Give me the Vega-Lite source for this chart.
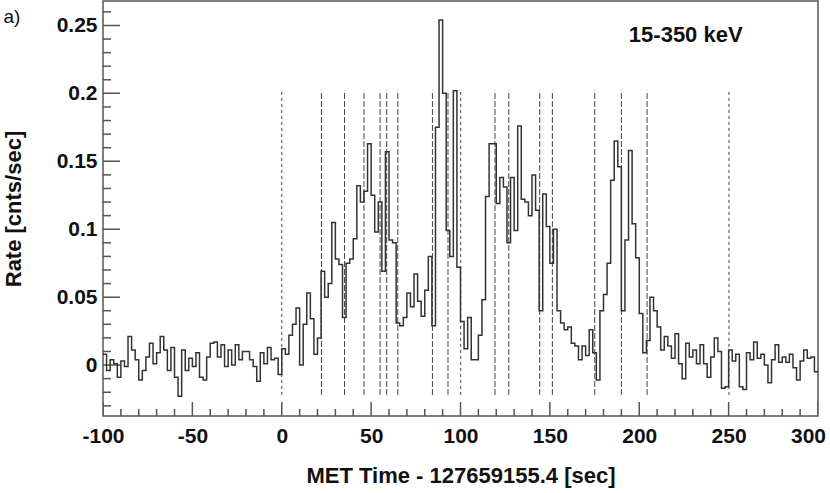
{
  "$schema": "https://vega.github.io/schema/vega-lite/v6.json",
  "width": 715,
  "height": 415,
  "autosize": {"type": "none"},
  "padding": {"left": 103, "top": 1, "right": 12, "bottom": 77},
  "background": "white",
  "config": {
    "view": {"stroke": "#555555", "strokeWidth": 1.5},
    "font": "Liberation Sans",
    "axis": {
      "domain": false,
      "grid": false,
      "ticks": false,
      "tickSize": 0,
      "labelFont": "Liberation Sans",
      "labelFontSize": 21,
      "labelFontWeight": "bold",
      "labelColor": "#111111",
      "labelOverlap": false,
      "labelFlush": false,
      "titleFont": "Liberation Sans",
      "titleFontSize": 22,
      "titleFontWeight": "bold",
      "titleColor": "#111111"
    }
  },
  "datasets": {
    "hist": [
      {"t": -100, "v": 0.008}, {"t": -98, "v": -0.004}, {"t": -96, "v": 0.004}, {"t": -94, "v": 0.001},
      {"t": -92, "v": -0.009}, {"t": -90, "v": 0.003}, {"t": -88, "v": -0.001}, {"t": -86, "v": 0.021},
      {"t": -84, "v": 0.011}, {"t": -82, "v": 0.004}, {"t": -80, "v": -0.011}, {"t": -78, "v": -0.004},
      {"t": -76, "v": 0.006}, {"t": -74, "v": 0.016}, {"t": -72, "v": 0.001}, {"t": -70, "v": 0.009},
      {"t": -68, "v": 0.021}, {"t": -66, "v": 0.011}, {"t": -64, "v": -0.004}, {"t": -62, "v": 0.013},
      {"t": -60, "v": -0.009}, {"t": -58, "v": -0.023}, {"t": -56, "v": 0.011}, {"t": -54, "v": -0.004},
      {"t": -52, "v": 0.005}, {"t": -50, "v": -0.001}, {"t": -48, "v": 0.009}, {"t": -46, "v": -0.009},
      {"t": -44, "v": -0.011}, {"t": -42, "v": 0.006}, {"t": -40, "v": 0.016}, {"t": -38, "v": 0.017},
      {"t": -36, "v": 0.006}, {"t": -34, "v": 0.015}, {"t": -32, "v": -0.001}, {"t": -30, "v": 0.011},
      {"t": -28, "v": 0.0}, {"t": -26, "v": 0.015}, {"t": -24, "v": 0.004}, {"t": -22, "v": 0.010},
      {"t": -20, "v": 0.010}, {"t": -18, "v": 0.004}, {"t": -16, "v": -0.001}, {"t": -14, "v": -0.012},
      {"t": -12, "v": 0.009}, {"t": -10, "v": 0.001}, {"t": -8, "v": 0.013}, {"t": -6, "v": 0.004},
      {"t": -4, "v": 0.005}, {"t": -2, "v": -0.007}, {"t": 0, "v": 0.012}, {"t": 2, "v": 0.008},
      {"t": 4, "v": 0.022}, {"t": 6, "v": 0.030}, {"t": 8, "v": 0.042}, {"t": 10, "v": 0.0},
      {"t": 12, "v": 0.030}, {"t": 14, "v": 0.053}, {"t": 16, "v": 0.034}, {"t": 18, "v": 0.008},
      {"t": 20, "v": 0.020}, {"t": 22, "v": 0.069}, {"t": 24, "v": 0.050}, {"t": 26, "v": 0.060},
      {"t": 28, "v": 0.105}, {"t": 30, "v": 0.078}, {"t": 32, "v": 0.074}, {"t": 34, "v": 0.035},
      {"t": 36, "v": 0.075}, {"t": 38, "v": 0.078}, {"t": 40, "v": 0.093}, {"t": 42, "v": 0.132},
      {"t": 44, "v": 0.120}, {"t": 46, "v": 0.128}, {"t": 48, "v": 0.163}, {"t": 50, "v": 0.125},
      {"t": 52, "v": 0.098}, {"t": 54, "v": 0.120}, {"t": 56, "v": 0.069}, {"t": 58, "v": 0.157},
      {"t": 60, "v": 0.092}, {"t": 62, "v": 0.090}, {"t": 64, "v": 0.031}, {"t": 66, "v": 0.029},
      {"t": 68, "v": 0.035}, {"t": 70, "v": 0.053}, {"t": 72, "v": 0.043}, {"t": 74, "v": 0.067},
      {"t": 76, "v": 0.047}, {"t": 78, "v": 0.036}, {"t": 80, "v": 0.055}, {"t": 82, "v": 0.080},
      {"t": 84, "v": 0.029}, {"t": 86, "v": 0.175}, {"t": 88, "v": 0.254}, {"t": 90, "v": 0.200},
      {"t": 92, "v": 0.099}, {"t": 94, "v": 0.080}, {"t": 96, "v": 0.202}, {"t": 98, "v": 0.072},
      {"t": 100, "v": 0.032}, {"t": 102, "v": 0.012}, {"t": 104, "v": 0.035}, {"t": 106, "v": 0.004},
      {"t": 108, "v": 0.004}, {"t": 110, "v": 0.022}, {"t": 112, "v": 0.048}, {"t": 114, "v": 0.124},
      {"t": 116, "v": 0.163}, {"t": 118, "v": 0.163}, {"t": 120, "v": 0.119}, {"t": 122, "v": 0.138},
      {"t": 124, "v": 0.131}, {"t": 126, "v": 0.090}, {"t": 128, "v": 0.138}, {"t": 130, "v": 0.099},
      {"t": 132, "v": 0.176}, {"t": 134, "v": 0.122}, {"t": 136, "v": 0.120}, {"t": 138, "v": 0.110},
      {"t": 140, "v": 0.140}, {"t": 142, "v": 0.114}, {"t": 144, "v": 0.040}, {"t": 146, "v": 0.126},
      {"t": 148, "v": 0.102}, {"t": 150, "v": 0.075}, {"t": 152, "v": 0.100}, {"t": 154, "v": 0.040},
      {"t": 156, "v": 0.031}, {"t": 158, "v": 0.026}, {"t": 160, "v": 0.028}, {"t": 162, "v": 0.016},
      {"t": 164, "v": 0.014}, {"t": 166, "v": 0.004}, {"t": 168, "v": 0.014}, {"t": 170, "v": 0.007},
      {"t": 172, "v": 0.026}, {"t": 174, "v": 0.009}, {"t": 176, "v": -0.011}, {"t": 178, "v": 0.040},
      {"t": 180, "v": 0.052}, {"t": 182, "v": 0.075}, {"t": 184, "v": 0.136}, {"t": 186, "v": 0.165},
      {"t": 188, "v": 0.146}, {"t": 190, "v": 0.040}, {"t": 192, "v": 0.092}, {"t": 194, "v": 0.158},
      {"t": 196, "v": 0.104}, {"t": 198, "v": 0.079}, {"t": 200, "v": 0.038}, {"t": 202, "v": 0.009},
      {"t": 204, "v": 0.018}, {"t": 206, "v": 0.050}, {"t": 208, "v": 0.040}, {"t": 210, "v": 0.028},
      {"t": 212, "v": 0.011}, {"t": 214, "v": 0.021}, {"t": 216, "v": 0.014}, {"t": 218, "v": 0.005},
      {"t": 220, "v": 0.023}, {"t": 222, "v": 0.001}, {"t": 224, "v": -0.010}, {"t": 226, "v": 0.016},
      {"t": 228, "v": 0.006}, {"t": 230, "v": 0.011}, {"t": 232, "v": 0.001}, {"t": 234, "v": 0.015},
      {"t": 236, "v": 0.001}, {"t": 238, "v": -0.009}, {"t": 240, "v": 0.006}, {"t": 242, "v": 0.020},
      {"t": 244, "v": 0.010}, {"t": 246, "v": -0.017}, {"t": 248, "v": -0.016}, {"t": 250, "v": 0.011},
      {"t": 252, "v": 0.003}, {"t": 254, "v": 0.008}, {"t": 256, "v": -0.016}, {"t": 258, "v": -0.018},
      {"t": 260, "v": 0.009}, {"t": 262, "v": 0.004}, {"t": 264, "v": 0.017}, {"t": 266, "v": 0.005},
      {"t": 268, "v": 0.008}, {"t": 270, "v": 0.0}, {"t": 272, "v": -0.013}, {"t": 274, "v": 0.004},
      {"t": 276, "v": 0.015}, {"t": 278, "v": 0.002}, {"t": 280, "v": 0.006}, {"t": 282, "v": 0.002},
      {"t": 284, "v": 0.008}, {"t": 286, "v": -0.002}, {"t": 288, "v": -0.011}, {"t": 290, "v": 0.003},
      {"t": 292, "v": 0.011}, {"t": 294, "v": 0.005}, {"t": 296, "v": 0.006}, {"t": 298, "v": -0.005},
      {"t": 300, "v": -0.005}
    ],
    "marks": [
      {"t": 0, "lo": -0.022, "hi": 0.202, "kind": "dot"},
      {"t": 22.2, "lo": -0.022, "hi": 0.202, "kind": "dash"},
      {"t": 35.1, "lo": -0.022, "hi": 0.202, "kind": "dash"},
      {"t": 46.0, "lo": -0.022, "hi": 0.202, "kind": "dash"},
      {"t": 55.0, "lo": -0.022, "hi": 0.202, "kind": "dash"},
      {"t": 58.7, "lo": -0.022, "hi": 0.202, "kind": "dash"},
      {"t": 64.9, "lo": -0.022, "hi": 0.202, "kind": "dash"},
      {"t": 84.3, "lo": -0.022, "hi": 0.202, "kind": "dash"},
      {"t": 93.0, "lo": -0.022, "hi": 0.202, "kind": "dash"},
      {"t": 100.1, "lo": -0.022, "hi": 0.202, "kind": "dot"},
      {"t": 119.3, "lo": -0.022, "hi": 0.202, "kind": "dash"},
      {"t": 127.0, "lo": -0.022, "hi": 0.202, "kind": "dash"},
      {"t": 144.3, "lo": -0.022, "hi": 0.202, "kind": "dash"},
      {"t": 151.4, "lo": -0.022, "hi": 0.202, "kind": "dash"},
      {"t": 175.1, "lo": -0.022, "hi": 0.202, "kind": "dash"},
      {"t": 190.0, "lo": -0.022, "hi": 0.202, "kind": "dash"},
      {"t": 204.4, "lo": -0.022, "hi": 0.202, "kind": "dash"},
      {"t": 250.2, "lo": -0.022, "hi": 0.202, "kind": "dot"}
    ],
    "xticks": [
      {"t": -100, "kind": "major"}, {"t": -90, "kind": "minor"}, {"t": -80, "kind": "minor"}, {"t": -70, "kind": "minor"}, {"t": -60, "kind": "minor"},
      {"t": -50, "kind": "major"}, {"t": -40, "kind": "minor"}, {"t": -30, "kind": "minor"}, {"t": -20, "kind": "minor"}, {"t": -10, "kind": "minor"},
      {"t": 0, "kind": "major"}, {"t": 10, "kind": "minor"}, {"t": 20, "kind": "minor"}, {"t": 30, "kind": "minor"}, {"t": 40, "kind": "minor"},
      {"t": 50, "kind": "major"}, {"t": 60, "kind": "minor"}, {"t": 70, "kind": "minor"}, {"t": 80, "kind": "minor"}, {"t": 90, "kind": "minor"},
      {"t": 100, "kind": "major"}, {"t": 110, "kind": "minor"}, {"t": 120, "kind": "minor"}, {"t": 130, "kind": "minor"}, {"t": 140, "kind": "minor"},
      {"t": 150, "kind": "major"}, {"t": 160, "kind": "minor"}, {"t": 170, "kind": "minor"}, {"t": 180, "kind": "minor"}, {"t": 190, "kind": "minor"},
      {"t": 200, "kind": "major"}, {"t": 210, "kind": "minor"}, {"t": 220, "kind": "minor"}, {"t": 230, "kind": "minor"}, {"t": 240, "kind": "minor"},
      {"t": 250, "kind": "major"}, {"t": 260, "kind": "minor"}, {"t": 270, "kind": "minor"}, {"t": 280, "kind": "minor"}, {"t": 290, "kind": "minor"},
      {"t": 300, "kind": "major"}
    ],
    "yticks": [
      {"v": -0.03, "kind": "minor"}, {"v": -0.02, "kind": "minor"}, {"v": -0.01, "kind": "minor"},
      {"v": 0, "kind": "major"}, {"v": 0.01, "kind": "minor"}, {"v": 0.02, "kind": "minor"}, {"v": 0.03, "kind": "minor"}, {"v": 0.04, "kind": "minor"},
      {"v": 0.05, "kind": "major"}, {"v": 0.06, "kind": "minor"}, {"v": 0.07, "kind": "minor"}, {"v": 0.08, "kind": "minor"}, {"v": 0.09, "kind": "minor"},
      {"v": 0.1, "kind": "major"}, {"v": 0.11, "kind": "minor"}, {"v": 0.12, "kind": "minor"}, {"v": 0.13, "kind": "minor"}, {"v": 0.14, "kind": "minor"},
      {"v": 0.15, "kind": "major"}, {"v": 0.16, "kind": "minor"}, {"v": 0.17, "kind": "minor"}, {"v": 0.18, "kind": "minor"}, {"v": 0.19, "kind": "minor"},
      {"v": 0.2, "kind": "major"}, {"v": 0.21, "kind": "minor"}, {"v": 0.22, "kind": "minor"}, {"v": 0.23, "kind": "minor"}, {"v": 0.24, "kind": "minor"},
      {"v": 0.25, "kind": "major"}, {"v": 0.26, "kind": "minor"}
    ],
    "labels": [
      {"t": 226, "v": 0.243, "text": "15-350 keV", "kind": "energy"},
      {"t": -151, "v": 0.256, "text": "a)", "kind": "panel"}
    ]
  },
  "resolve": {"axis": {"x": "independent", "y": "independent"}},
  "layer": [
    {
      "data": {"name": "marks"},
      "transform": [{"filter": "datum.kind === 'dash'"}],
      "mark": {"type": "rule", "color": "#444444", "strokeWidth": 1, "strokeDash": [6, 2]},
      "encoding": {
        "x": {"field": "t", "type": "quantitative", "scale": {"domain": [-100, 300], "nice": false, "zero": false}, "axis": null},
        "y": {"field": "lo", "type": "quantitative", "scale": {"domain": [-0.0375, 0.268], "nice": false, "zero": false}, "axis": null},
        "y2": {"field": "hi"}
      }
    },
    {
      "data": {"name": "marks"},
      "transform": [{"filter": "datum.kind === 'dot'"}],
      "mark": {"type": "rule", "color": "#444444", "strokeWidth": 1, "strokeDash": [3, 3]},
      "encoding": {
        "x": {"field": "t", "type": "quantitative", "axis": null},
        "y": {"field": "lo", "type": "quantitative", "axis": null},
        "y2": {"field": "hi"}
      }
    },
    {
      "data": {"name": "xticks"},
      "transform": [{"filter": "datum.kind === 'major'"}],
      "mark": {"type": "tick", "orient": "vertical", "size": 28, "thickness": 1.5, "color": "#555555", "opacity": 1, "clip": true},
      "encoding": {
        "x": {"field": "t", "type": "quantitative", "axis": null},
        "y": {"datum": -0.0375, "type": "quantitative", "axis": null}
      }
    },
    {
      "data": {"name": "xticks"},
      "transform": [{"filter": "datum.kind === 'minor'"}],
      "mark": {"type": "tick", "orient": "vertical", "size": 14, "thickness": 1.5, "color": "#555555", "opacity": 1, "clip": true},
      "encoding": {
        "x": {"field": "t", "type": "quantitative", "axis": null},
        "y": {"datum": -0.0375, "type": "quantitative", "axis": null}
      }
    },
    {
      "data": {"name": "yticks"},
      "transform": [{"filter": "datum.kind === 'major'"}],
      "mark": {"type": "tick", "orient": "horizontal", "size": 34, "thickness": 1.5, "color": "#555555", "opacity": 1, "clip": true},
      "encoding": {
        "x": {"datum": -100, "type": "quantitative", "axis": null},
        "y": {"field": "v", "type": "quantitative", "axis": null}
      }
    },
    {
      "data": {"name": "yticks"},
      "transform": [{"filter": "datum.kind === 'minor'"}],
      "mark": {"type": "tick", "orient": "horizontal", "size": 16, "thickness": 1.5, "color": "#555555", "opacity": 1, "clip": true},
      "encoding": {
        "x": {"datum": -100, "type": "quantitative", "axis": null},
        "y": {"field": "v", "type": "quantitative", "axis": null}
      }
    },
    {
      "data": {"name": "hist"},
      "mark": {"type": "line", "interpolate": "step-after", "color": "#333333", "strokeWidth": 1.5},
      "encoding": {
        "x": {
          "field": "t", "type": "quantitative",
          "axis": {
            "orient": "bottom",
            "title": "MET Time - 127659155.4 [sec]",
            "values": [-100, -50, 0, 50, 100, 150, 200, 250, 300],
            "labelExpr": "toString(datum.value)",
            "labelPadding": 9,
            "labelOffset": {"condition": {"test": "datum.value === 300", "value": -10}, "value": 0},
            "titlePadding": 19
          }
        },
        "y": {
          "field": "v", "type": "quantitative",
          "axis": {
            "orient": "left",
            "title": "Rate [cnts/sec]",
            "values": [0, 0.05, 0.1, 0.15, 0.2, 0.25],
            "labelExpr": "toString(datum.value)",
            "labelPadding": 6,
            "titlePadding": 31
          }
        }
      }
    },
    {
      "data": {"name": "labels"},
      "transform": [{"filter": "datum.kind === 'energy'"}],
      "mark": {"type": "text", "font": "Liberation Sans", "fontSize": 22, "fontWeight": "bold", "color": "#111111", "align": "center", "baseline": "middle"},
      "encoding": {
        "x": {"field": "t", "type": "quantitative", "axis": null},
        "y": {"field": "v", "type": "quantitative", "axis": null},
        "text": {"field": "text"}
      }
    },
    {
      "data": {"name": "labels"},
      "transform": [{"filter": "datum.kind === 'panel'"}],
      "mark": {"type": "text", "font": "Liberation Sans", "fontSize": 19, "color": "#111111", "align": "center", "baseline": "middle", "clip": false},
      "encoding": {
        "x": {"field": "t", "type": "quantitative", "axis": null},
        "y": {"field": "v", "type": "quantitative", "axis": null},
        "text": {"field": "text"}
      }
    }
  ]
}
